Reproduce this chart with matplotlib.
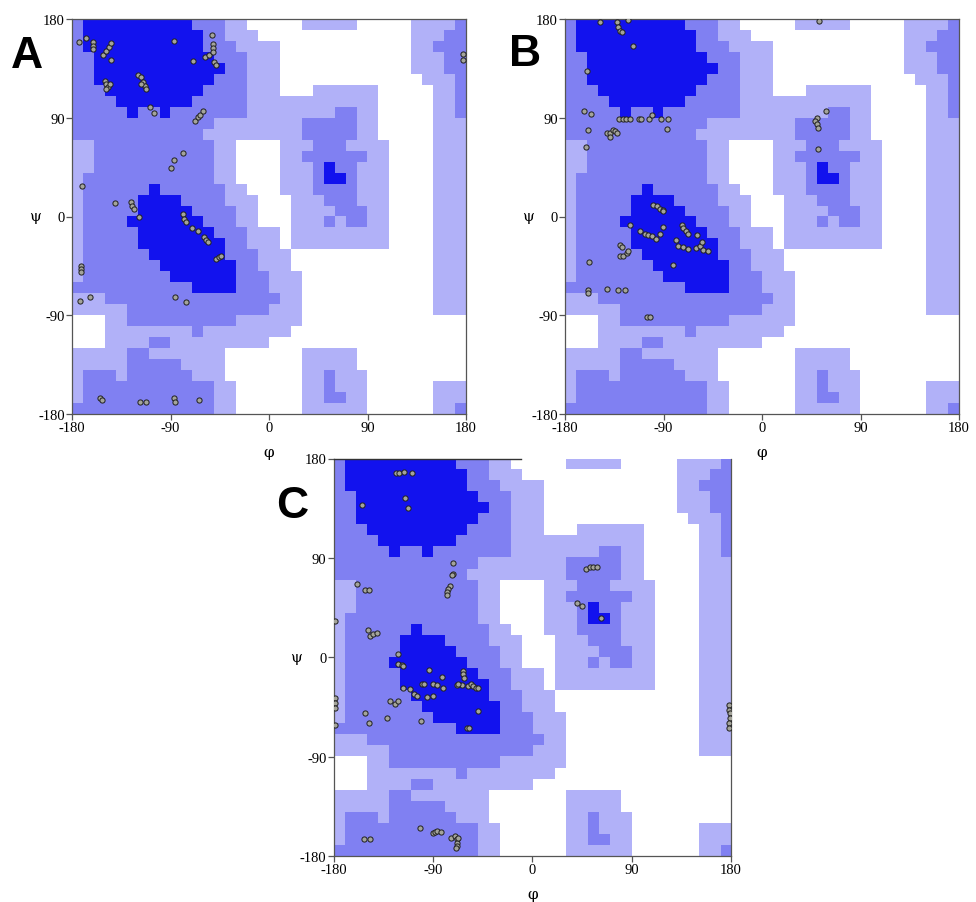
import numpy as np
import matplotlib
matplotlib.use("Agg")
import matplotlib.pyplot as plt
from matplotlib.colors import ListedColormap

# Ramachandran region map, 10 degree cells.
# rows: psi 180 -> -180 (top to bottom), columns: phi -180 -> 180
# 0 = disallowed, 1 = generous, 2 = allowed, 3 = core
REGION_ROWS = [
    "233333333332221100000111110000011112",
    "233333333333221110000000000000011122",
    "233333333333222111100000000000011222",
    "223333333333322211100000000000011122",
    "223333333333332211100000000000011122",
    "223333333333322211100000000000001112",
    "222333333333222211100011111100000112",
    "222233333332222211111111111100000112",
    "222223223222222211111111221100000112",
    "222222222222211111111222221100000111",
    "222222222222111111111222221100000111",
    "112222222222211000011122211110000111",
    "112222222222211000011222222110000111",
    "112222222222211000011123221110000111",
    "122222222222211000011123321110000111",
    "122222232222221100011122221110000111",
    "122222333322221110001112221110000111",
    "122222333332222110001111222110000111",
    "122223333333222110001112122110000111",
    "122222333333322211101111111110000111",
    "122222333333332211101111111110000111",
    "122222233333332221110000000000000111",
    "122222223333333221110000000000000111",
    "122222222333333222111000000000000111",
    "222222222223333222111000000000000111",
    "111222222222222222211000000000000111",
    "111112222222222222111000000000000111",
    "000112222222222111111000000000000000",
    "000111111112111111110000000000000000",
    "000111122111111111000000000000000000",
    "111112211111110000000111110000000000",
    "111112222211110000000111110000000000",
    "122212222221110000000112111000000000",
    "122222222222211000000112111000000111",
    "122222222222211000000112211000000111",
    "222222222222211000000111111000000112",
]

REGION_COLORS = ["#ffffff", "#b1b1f8", "#8080f2", "#1212ee"]

TICKS = [-180, -90, 0, 90, 180]

A_PHI = [-173.9, -167.5, -160.9, -160.9, -160.9, -151.7, -148.6, -146.5, -144.7,
         -144.0, -150.2, -148.6, -147.2, -145.6, -148.6, -119.8, -116.7, -115.3,
         -113.7, -112.2, -116.7, -86.4, -69.0, -58.1, -55.1, -52.0, -51.5, -51.5,
         -50.8, -49.9, -48.4, -108.5, -105.2, -67.2, -65.1, -62.9, -60.6, -78.8,
         -86.4, -90.0, -170.5, -141.1, -125.9, -124.9, -123.8, -118.9, -78.8,
         -77.3, -75.7, -70.2, -65.1, -59.0, -57.5, -56.0, -48.4, -46.0, -43.8,
         -171.4, -171.4, -171.4, -172.3, -163.2, -85.7, -75.4, -154.7, -152.3,
         -117.6, -112.2, -87.0, -85.5, -63.6, 177.5, 177.5]
A_PSI = [159.3, 162.4, 158.8, 155.0, 153.0, 147.5, 151.1, 154.8, 157.8, 142.6,
         123.8, 120.7, 117.7, 120.7, 116.2, 128.6, 127.1, 122.4, 119.2, 116.2,
         120.7, 159.7, 141.4, 145.6, 147.2, 165.4, 157.2, 153.3, 149.6, 140.5,
         138.1, 99.5, 94.3, 87.3, 90.4, 92.5, 96.4, 57.8, 51.7, 43.9, 28.0, 12.0,
         13.5, 9.3, 6.8, -0.8, 2.2, -2.3, -5.3, -10.8, -13.0, -19.0, -21.1, -23.6,
         -38.8, -36.7, -35.8, -44.9, -47.9, -50.9, -76.8, -73.7, -73.7, -78.3,
         -165.8, -167.1, -169.4, -168.8, -165.8, -169.4, -167.1, 148.0, 143.0]

B_PHI = [-148.0, -132.7, -131.3, -129.7, -128.2, -122.1, -117.6, -160.2, -162.6,
         -156.2, -130.4, -127.3, -124.2, -120.6, -112.1, -110.5, -103.0, -100.8,
         -92.5, -85.6, -86.5, -158.7, -141.9, -138.9, -135.8, -134.3, -132.2,
         -138.9, -160.8, -99.3, -96.2, -93.2, -90.1, -90.7, -120.6, -111.4,
         -106.9, -103.8, -100.7, -96.8, -93.1, -90.1, -73.3, -71.9, -69.4, -67.3,
         -59.0, -78.8, -76.4, -71.9, -67.3, -60.3, -56.6, -55.1, -53.6, -49.0,
         -81.6, -129.7, -128.2, -129.7, -126.7, -123.6, -122.1, -157.8, -158.7,
         -158.7, -141.9, -131.3, -125.2, -105.3, -102.3, 52.5, 58.3, 50.1, 48.5,
         50.1, 51.5, 51.0]
B_PSI = [177.5, 177.0, 172.4, 169.3, 167.8, 179.4, 155.0, 132.7, 96.2, 93.2,
         89.2, 89.2, 89.2, 89.2, 89.2, 89.2, 89.2, 92.2, 89.2, 89.2, 80.1, 78.8,
         76.4, 76.4, 78.8, 77.9, 76.4, 72.8, 63.6, 10.9, 9.4, 7.0, 5.7, 5.4, -7.4,
         -13.5, -15.6, -16.5, -17.4, -20.5, -15.6, -9.5, -7.4, -10.4, -13.5,
         -15.6, -16.5, -21.7, -26.6, -27.8, -29.6, -28.7, -27.2, -23.6, -30.2,
         -31.8, -44.0, -25.7, -27.8, -35.7, -35.7, -33.3, -31.8, -41.8, -66.8,
         -69.3, -66.2, -67.4, -67.4, -91.8, -91.2, 178.4, 96.2, 90.1, 87.0, 84.0,
         81.0, 61.8]

C_PHI = [-123.4, -120.4, -116.1, -109.2, -154.4, -115.2, -112.2, -72.1, -72.1,
         -73.0, -74.5, -76.0, -77.6, -77.6, 49.0, 52.0, 55.0, 58.6, 40.5, 45.4,
         62.5, -158.9, -151.4, -147.5, -179.0, -149.0, -146.9, -143.8, -140.8,
         -121.9, -121.2, -118.2, -116.7, -93.2, -82.1, -89.6, -86.6, -81.2,
         -117.3, -110.7, -107.1, -104.7, -100.2, -97.7, -95.6, -89.6, -128.8,
         -124.3, -121.2, -131.8, -100.8, -151.4, -147.5, -179.0, -179.0, -179.0,
         -179.0, -63.1, -62.5, -61.9, -64.0, -58.0, -68.5, -67.0, -55.6, -53.5,
         -51.3, -48.9, -49.5, -59.5, -57.1, 178.5, 178.5, 179.0, 179.0, 178.5,
         178.5, -152.3, -146.9, -101.7, -90.2, -88.1, -86.0, -83.0, -74.0, -70.0,
         -68.5, -67.9, -68.5, -69.1, -67.0]
C_PSI = [166.6, 166.9, 167.8, 166.9, 138.3, 144.4, 135.2, 85.6, 75.8, 74.3, 64.3,
         62.1, 59.1, 56.0, 79.5, 81.3, 81.3, 81.9, 49.3, 46.3, 35.3, 66.1, 60.6,
         60.6, 32.6, 24.7, 19.5, 21.0, 21.6, 2.7, -5.8, -7.0, -7.9, -11.3, -18.0,
         -24.1, -24.7, -28.3, -27.7, -28.7, -33.2, -34.7, -23.8, -23.8, -36.3,
         -34.7, -40.0, -42.4, -39.3, -55.1, -57.6, -50.6, -59.7, -36.9, -41.5,
         -46.0, -61.2, -12.5, -15.6, -18.6, -24.7, -26.2, -24.7, -24.1, -24.1,
         -26.2, -28.3, -28.3, -48.5, -64.3, -63.7, -43.0, -47.5, -50.6, -55.1,
         -59.7, -64.3, -164.8, -164.8, -155.0, -159.3, -158.1, -157.8, -158.1,
         -163.3, -161.8, -164.8, -167.9, -170.9, -172.4, -163.3]


def draw_panel(fig, rect, letter, phi, psi, letter_xy, top_line=None):
    ax = fig.add_axes(rect)
    grid = np.array([[int(c) for c in row] for row in REGION_ROWS])
    cmap = ListedColormap(REGION_COLORS)
    ax.imshow(grid, cmap=cmap, vmin=-0.5, vmax=3.5, origin="upper",
              extent=(-180, 180, -180, 180), interpolation="nearest",
              aspect="auto")
    ax.scatter(phi, psi, s=14, facecolor="#a4a49a", edgecolor="#202020",
               linewidth=0.7, zorder=3)
    ax.set_xlim(-180, 180)
    ax.set_ylim(-180, 180)
    ax.set_xticks(TICKS)
    ax.set_yticks(TICKS)
    ax.set_xticklabels([str(t) for t in TICKS])
    ax.set_yticklabels([str(t) for t in TICKS])
    ax.tick_params(direction="out", length=4, width=0.9, color="#555555",
                   labelsize=10.5, pad=1)
    for lab in ax.get_xticklabels() + ax.get_yticklabels():
        lab.set_fontfamily("Liberation Serif")
    for sp in ax.spines.values():
        sp.set_color("#555555")
        sp.set_linewidth(0.9)
    if top_line is not None:
        ax.spines["top"].set_visible(False)
        ax.plot(top_line, [180, 180], color="#333333", lw=1.0, clip_on=False,
                zorder=4)
    ax.text(-0.095, 0.5, "ψ", transform=ax.transAxes, ha="center",
            va="center", fontsize=11, family="DejaVu Serif")
    ax.text(0.5, -0.096, "φ", transform=ax.transAxes, ha="center",
            va="center", fontsize=11, family="DejaVu Serif")
    fig.text(letter_xy[0], letter_xy[1], letter, fontsize=32,
             fontweight="bold", family="Liberation Sans", ha="center",
             va="center")
    return ax


def main() -> None:
    W, H = 976, 903
    fig = plt.figure(figsize=(W / 100, H / 100), dpi=100)
    draw_panel(fig, [72 / W, 1 - 415 / H, 394 / W, 395 / H], "A",
               A_PHI, A_PSI, (27 / W, 1 - 56 / H))
    draw_panel(fig, [565 / W, 1 - 415 / H, 394 / W, 395 / H], "B",
               B_PHI, B_PSI, (525 / W, 1 - 54 / H))
    draw_panel(fig, [333.5 / W, 1 - 857 / H, 397.5 / W, 397.5 / H], "C",
               C_PHI, C_PSI, (292 / W, 1 - 506 / H), top_line=[-180, -10])
    fig.savefig("out.png", dpi=100)


main()
